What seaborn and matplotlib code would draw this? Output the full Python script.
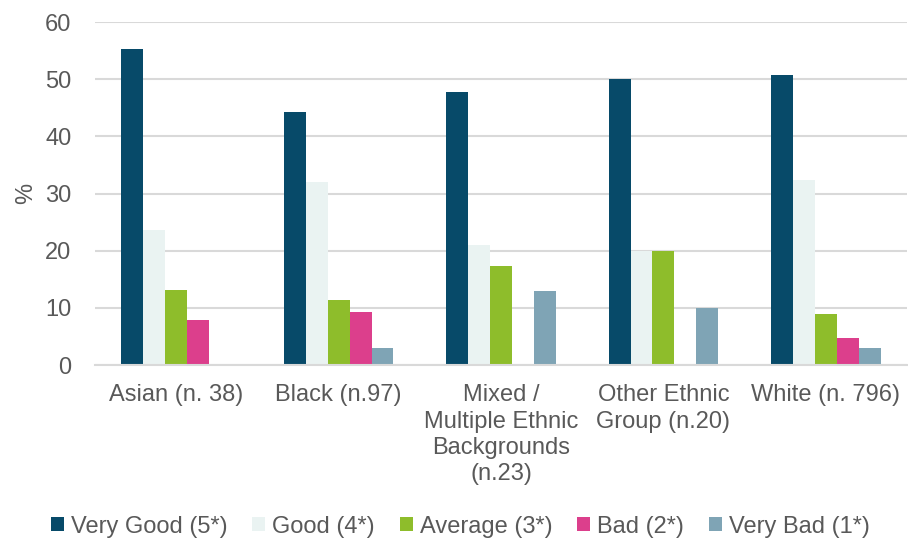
import numpy as np
import pandas as pd
import seaborn as sns
import matplotlib.pyplot as plt

# groups and ratings
groups = ['Asian (n. 38)', 'Black (n.97)', 'Mixed /\nMultiple Ethnic\nBackgrounds\n(n.23)',
          'Other Ethnic\nGroup (n.20)', 'White (n. 796)']
ratings = ['Very Good (5*)', 'Good (4*)', 'Average (3*)', 'Bad (2*)', 'Very Bad (1*)']

very_good = [55.3, 44.3, 47.8, 50.0, 50.8]
good = [23.6, 32.0, 21.0, 20.0, 32.3]
average = [13.1, 11.3, 17.4, 20.0, 9.0]
bad = [7.9, 9.3, 0.0, 0.0, 4.7]
very_bad = [0.0, 3.0, 13.0, 10.0, 2.9]

colours = ['#074a69', '#eaf3f2', '#8ebd2b', '#dc3f8c', '#7fa4b5']

# long form table for seaborn
rows = []
for rating, vals in zip(ratings, [very_good, good, average, bad, very_bad]):
    for g, v in zip(groups, vals):
        rows.append({'group': g, 'rating': rating, 'pct': v})
df = pd.DataFrame(rows)

sns.set_style('white')
plt.rcParams['font.family'] = ['Liberation Sans', 'DejaVu Sans']
grey = '#595959'

fig = plt.figure(figsize=(9.08, 5.4), dpi=100)
ax = fig.add_axes([0.1046, 0.324, 0.8944, 0.635])

sns.barplot(data=df, x='group', y='pct', hue='rating', order=groups, hue_order=ratings,
            palette=colours, width=0.675, linewidth=0, saturation=1, ax=ax)

ax.set_ylim(0, 60)
ax.set_yticks(range(0, 61, 10))
ax.yaxis.grid(True, color='#d9d9d9', linewidth=1.5)
ax.set_axisbelow(True)
for s in ['top', 'right', 'left']:
    ax.spines[s].set_visible(False)
ax.spines['bottom'].set_color('#d9d9d9')
ax.spines['bottom'].set_linewidth(1.5)
ax.tick_params(axis='both', length=0, labelsize=17, labelcolor=grey)
ax.tick_params(axis='x', pad=14)
ax.tick_params(axis='y', pad=17)
for lbl in ax.get_xticklabels():
    lbl.set_linespacing(1.25)
ax.set_xlabel('')
ax.set_ylabel('%', fontsize=17, color=grey, labelpad=6)

handles, labels = ax.get_legend_handles_labels()
ax.get_legend().remove()
fig.legend(handles, labels, loc='center', bbox_to_anchor=(0.507, 0.025), ncol=5,
           frameon=False, fontsize=17, labelcolor=grey, handlelength=0.55, handleheight=0.55,
           handletextpad=0.3, columnspacing=1.05)

fig.savefig('out.png', dpi=100)
